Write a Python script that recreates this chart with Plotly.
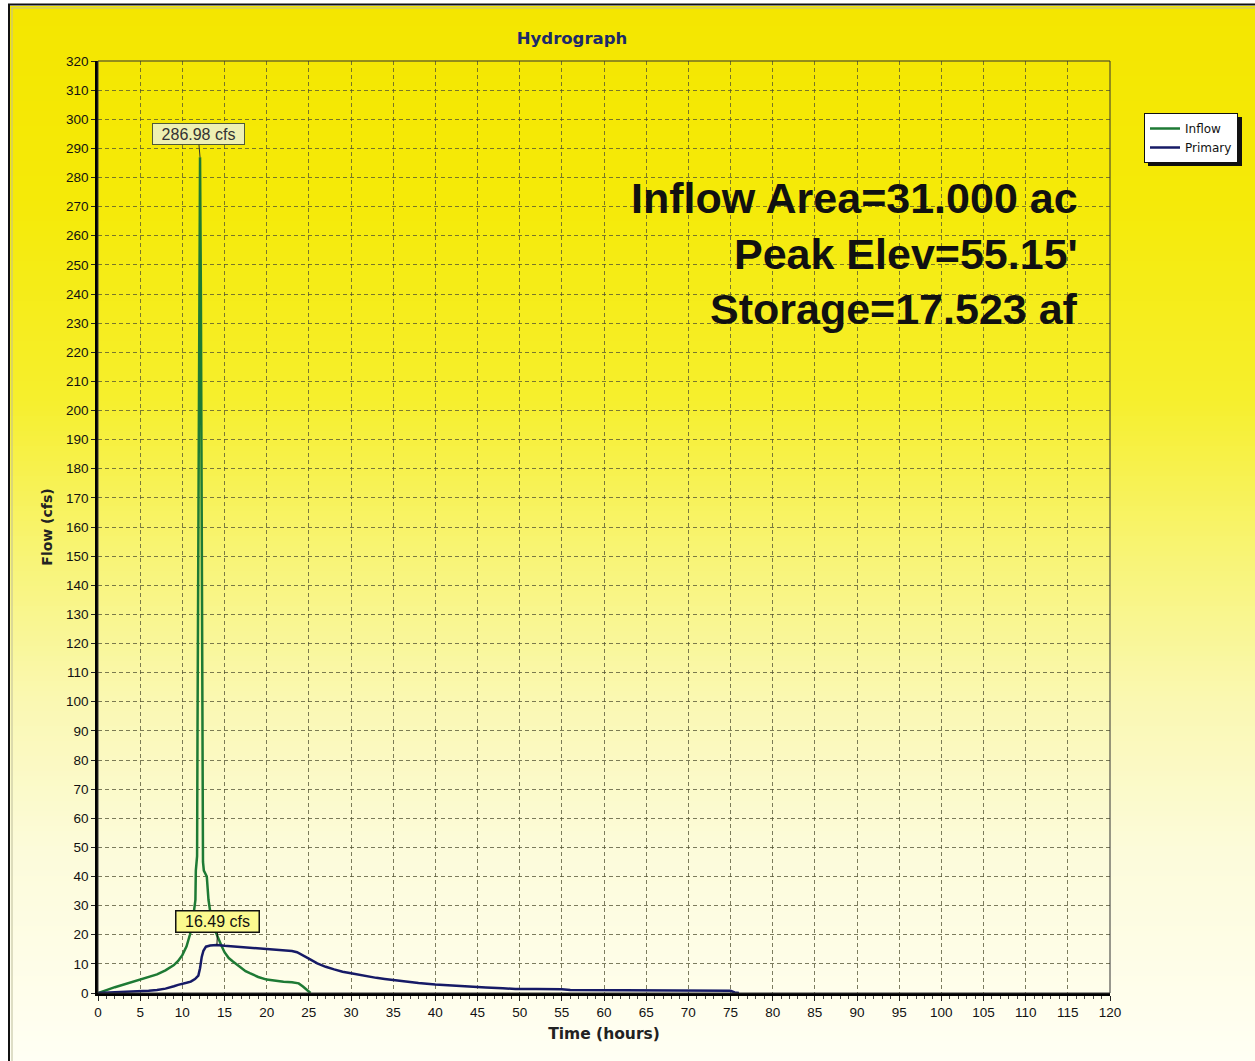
import plotly.graph_objects as go

# ---- hydrograph data (hours, cfs) ----
inflow_time = [0, 0.5, 1, 2, 3, 4, 5, 6, 7, 8, 9, 9.5, 10, 10.5, 10.9, 11.2, 11.4, 11.55,
               11.6, 11.75, 11.8, 11.9, 12.0, 12.1, 12.2, 12.3, 12.4, 12.45, 12.55, 12.9,
               13.1, 13.4, 13.8, 14.2, 14.6, 15.0, 15.5, 16.0, 16.8, 17.5, 18.0, 19.0, 20.0,
               21.0, 22.0, 23.0, 23.8, 24.3, 24.8, 25.2]
inflow_flow = [0, 0.4, 1.0, 2.0, 2.9, 3.7, 4.5, 5.4, 6.4, 7.8, 9.6, 11, 13, 16, 20, 24, 28, 32,
               42, 47, 90, 157, 230, 286.98, 240, 150, 100, 45, 42, 40,
               32, 26, 22, 19, 16.5, 14, 12, 10.8, 9, 7.5, 6.8, 5.5, 4.6,
               4.2, 3.9, 3.7, 3.3, 2.2, 0.8, 0]

primary_time = [0, 2, 4, 6, 7, 8, 9, 9.5, 10.5, 11, 11.5, 11.9, 12.1, 12.3, 12.5, 12.8, 13.3,
                14.1, 15, 16, 17, 18, 19, 20, 21, 22, 23, 23.6, 24.3, 25, 26, 27, 28, 29, 30,
                31, 32, 33, 34, 35, 36, 38, 40, 42, 44, 46, 48, 49.5, 52, 55, 56, 60, 65, 70,
                75, 75.5, 76]
primary_flow = [0, 0.2, 0.5, 0.8, 1.0, 1.5, 2.3, 2.8, 3.5, 3.9, 4.8, 6.0, 8.5, 12.4, 14.5, 15.9,
                16.3, 16.49, 16.2, 16.0, 15.8, 15.5, 15.2, 15.0, 14.8, 14.6, 14.4, 14.0, 12.8,
                11.8, 10.2, 9.0, 8.1, 7.3, 6.8, 6.2, 5.7, 5.2, 4.8, 4.4, 4.0, 3.4, 2.9, 2.5,
                2.1, 1.9, 1.6, 1.4, 1.35, 1.3, 1.0, 0.9, 0.85, 0.8, 0.75, 0.2, 0]

series_names = ["Inflow", "Primary"]
x_tick_values = list(range(0, 121, 5))
y_tick_values = list(range(0, 321, 10))
summary_lines = ["Inflow Area=31.000 ac", "Peak Elev=55.15'", "Storage=17.523 af"]

# ---- page geometry ----
W, H = 1255, 1061
ML, MR, MT, MB = 98, 145, 61, 68
PW, PH = W - ML - MR, H - MT - MB


def px_x(px):
    return (px - ML) / PW


def px_y(py):
    return (H - MB - py) / PH


def lerp_color(py):
    stops = [(0, (244, 230, 0)), (200, (245, 234, 8)), (400, (246, 239, 45)),
             (550, (248, 244, 115)), (700, (250, 248, 178)), (850, (252, 251, 218)),
             (1000, (255, 254, 236)), (1061, (255, 255, 244))]
    for (y0, c0), (y1, c1) in zip(stops[:-1], stops[1:]):
        if y0 <= py <= y1:
            f = (py - y0) / (y1 - y0)
            return "rgb(%d,%d,%d)" % tuple(round(a + (b - a) * f) for a, b in zip(c0, c1))
    return "rgb(255,255,244)"


shapes = []
# vertical yellow-to-cream background gradient
band = 5
for top in range(6, H, band):
    bot = min(top + band + 1, H)
    shapes.append(dict(type="rect", xref="paper", yref="paper", layer="below",
                       x0=px_x(10), x1=px_x(W), y0=px_y(bot), y1=px_y(top),
                       fillcolor=lerp_color(top + band / 2), line=dict(width=0)))

# window frame lines
shapes += [
    dict(type="line", xref="paper", yref="paper", x0=px_x(8), x1=px_x(W), y0=px_y(4.5), y1=px_y(4.5),
         line=dict(color="#111", width=2)),
    dict(type="line", xref="paper", yref="paper", x0=px_x(9), x1=px_x(9), y0=px_y(4), y1=px_y(H),
         line=dict(color="#111", width=2)),
    dict(type="line", xref="paper", yref="paper", x0=px_x(11), x1=px_x(W), y0=px_y(8), y1=px_y(8),
         line=dict(color="#bdbd9a", width=1)),
    dict(type="line", xref="paper", yref="paper", x0=px_x(12), x1=px_x(12), y0=px_y(8), y1=px_y(H),
         line=dict(color="#bdbd9a", width=1)),
]
# thin border around plot area
shapes.append(dict(type="rect", xref="paper", yref="paper", x0=0, x1=1, y0=0, y1=1,
                   line=dict(color="#333", width=1), fillcolor="rgba(0,0,0,0)", layer="above"))
# legend drop shadow
shapes.append(dict(type="rect", xref="paper", yref="paper", layer="below",
                   x0=px_x(1148), x1=px_x(1242), y0=px_y(166), y1=px_y(117),
                   fillcolor="#111", line=dict(width=0)))

fig = go.Figure()
fig.add_trace(go.Scatter(x=inflow_time, y=inflow_flow, mode="lines", name=series_names[0],
                         line=dict(color="#1e7a34", width=2.5)))
fig.add_trace(go.Scatter(x=primary_time, y=primary_flow, mode="lines", name=series_names[1],
                         line=dict(color="#161a66", width=2.5)))

annotations = []
# peak call-outs
i_pk = max(range(len(inflow_flow)), key=lambda i: inflow_flow[i])
annotations.append(dict(x=inflow_time[i_pk], y=inflow_flow[i_pk], xref="x", yref="y",
                        text="%.2f cfs" % inflow_flow[i_pk], showarrow=True, arrowhead=0,
                        arrowwidth=1, arrowcolor="#333", ax=-2, ay=-23,
                        bgcolor="#eef0b2", bordercolor="#4f5a3a", borderwidth=1, borderpad=1,
                        width=89, height=18,
                        font=dict(family="Liberation Sans, Arial", size=16, color="#333")))
p_pk = max(range(len(primary_flow)), key=lambda i: primary_flow[i])
annotations.append(dict(x=primary_time[p_pk], y=primary_flow[p_pk], xref="x", yref="y",
                        text="%.2f cfs" % primary_flow[p_pk], showarrow=True, arrowhead=0,
                        arrowwidth=1, arrowcolor="#111", ax=1, ay=-23,
                        bgcolor="#fbf98e", bordercolor="#111", borderwidth=1.5, borderpad=1,
                        width=80, height=18,
                        font=dict(family="Liberation Sans, Arial", size=16, color="#111")))
# summary block
for line, py in zip(summary_lines, [198, 254, 309]):
    annotations.append(dict(x=px_x(1080), y=px_y(py), xref="paper", yref="paper",
                            xanchor="right", yanchor="middle", showarrow=False,
                            text="<b>%s</b>" % line,
                            font=dict(family="Liberation Sans, Arial", size=43, color="#111")))

fig.update_layout(
    width=W, height=H,
    margin=dict(l=ML, r=MR, t=MT, b=MB, pad=0),
    paper_bgcolor="white", plot_bgcolor="rgba(0,0,0,0)",
    title=dict(text="<b>Hydrograph</b>", x=572 / W, xanchor="center", y=1 - 38 / H,
               yanchor="middle", font=dict(family="DejaVu Sans", size=16.5, color="#1c2a6a")),
    shapes=shapes, annotations=annotations,
    showlegend=True,
    legend=dict(x=px_x(1144), y=px_y(113), xanchor="left", yanchor="top",
                bgcolor="white", bordercolor="#111", borderwidth=1, itemwidth=30,
                font=dict(family="DejaVu Sans", size=12, color="#111"), tracegroupgap=0),
)

grid = "rgba(80,80,50,0.75)"
tick_font = dict(family="Liberation Sans, Arial", size=13.5, color="#111")
fig.update_xaxes(range=[0, 120], tickvals=x_tick_values, ticks="outside", ticklen=5,
                 tickcolor="#222", showgrid=True, gridcolor=grid, griddash="4px,3px", gridwidth=1,
                 showline=True, linecolor="black", linewidth=3, zeroline=False,
                 minor=dict(ticks="outside", ticklen=3, dtick=1, tickcolor="#444", showgrid=False),
                 tickfont=tick_font,
                 title=dict(text="<b>Time (hours)</b>", standoff=9,
                            font=dict(family="DejaVu Sans", size=15.5, color="#222")))
fig.update_yaxes(range=[0, 320], tickvals=y_tick_values, ticks="outside", ticklen=4,
                 tickcolor="#222", showgrid=True, gridcolor=grid, griddash="4px,3px", gridwidth=1,
                 showline=True, linecolor="black", linewidth=2.5, zeroline=False,
                 tickfont=tick_font,
                 title=dict(text="<b>Flow (cfs)</b>", standoff=11,
                            font=dict(family="DejaVu Sans", size=14, color="#222")))

fig.write_html("out.html")
